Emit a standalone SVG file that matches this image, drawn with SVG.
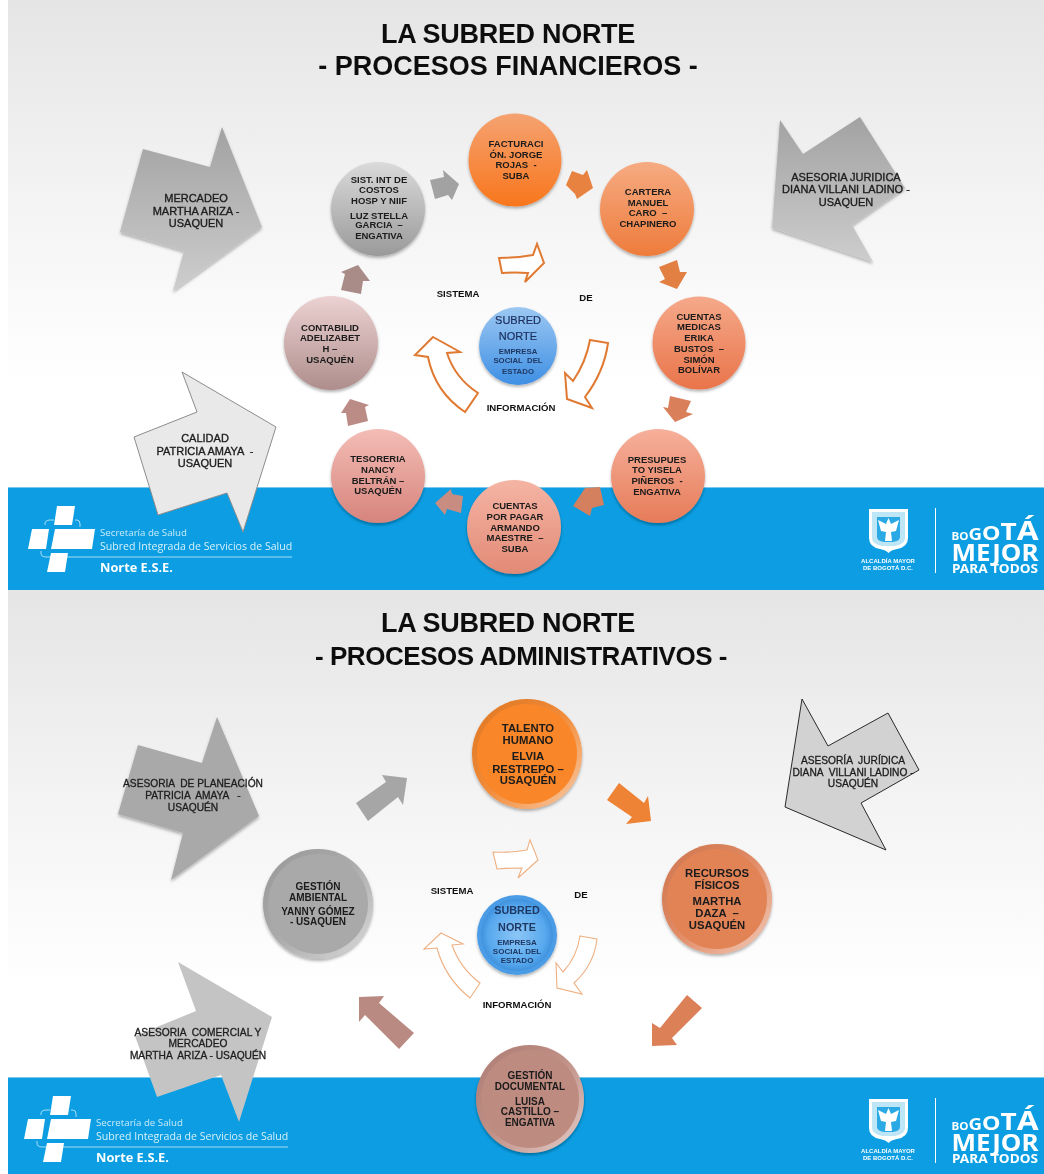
<svg xmlns="http://www.w3.org/2000/svg" width="1044" height="1174" viewBox="0 0 1044 1174">
<style>
text{font-family:"Liberation Sans",Arial,sans-serif;text-anchor:middle;fill:#1a1a1a;white-space:pre}
.title{font-size:27px;font-weight:700;fill:#111}
.n{font-size:9.500px;font-weight:700}
.b{font-size:11px;stroke:#222;stroke-width:.35px}
.b2{font-size:10.200px;stroke:#222;stroke-width:.3px}
.c{font-size:9.600px;font-weight:700;fill:#111}
.blue{fill:#1f3864;font-weight:700}
.bl{fill:#1c2f5c;stroke:#1c2f5c;stroke-width:.2px}
.lg{font-family:"Open Sans","Liberation Sans",sans-serif;fill:#fff;text-anchor:start}
.wh{fill:#fff;font-weight:700}
.br{font-family:"Noto Sans","Liberation Sans",sans-serif;fill:#fff;font-weight:700}
.ring{fill:#fff;stroke:#e07a33;stroke-width:2;stroke-linejoin:miter}
.ring2{fill:#fff;stroke:#eeb083;stroke-width:1.100}
</style>
<defs>
<linearGradient id="p1" x1="0" y1="0" x2="0" y2="1"><stop offset="0" stop-color="#e5e5e5"/><stop offset=".5" stop-color="#f3f3f3"/><stop offset="1" stop-color="#fff"/></linearGradient>
<linearGradient id="gBig" x1="0" y1="0" x2="0" y2="1"><stop offset="0" stop-color="#a2a2a2"/><stop offset="1" stop-color="#cdcdcd"/></linearGradient>
<linearGradient id="fa" x1="0" y1="0" x2="0" y2="1"><stop offset="0" stop-color="#f5a271"/><stop offset="1" stop-color="#f8761c"/></linearGradient>
<linearGradient id="ca" x1="0" y1="0" x2="0" y2="1"><stop offset="0" stop-color="#f6ab82"/><stop offset="1" stop-color="#ee7c3c"/></linearGradient>
<linearGradient id="me" x1="0" y1="0" x2="0" y2="1"><stop offset="0" stop-color="#f5a98a"/><stop offset="1" stop-color="#e9744a"/></linearGradient>
<linearGradient id="pr" x1="0" y1="0" x2="0" y2="1"><stop offset="0" stop-color="#f6b09b"/><stop offset="1" stop-color="#e67b58"/></linearGradient>
<linearGradient id="pa" x1="0" y1="0" x2="0" y2="1"><stop offset="0" stop-color="#f5b4a4"/><stop offset="1" stop-color="#e28a76"/></linearGradient>
<linearGradient id="te" x1="0" y1="0" x2="0" y2="1"><stop offset="0" stop-color="#f3bdb6"/><stop offset="1" stop-color="#d6847c"/></linearGradient>
<linearGradient id="co" x1="0" y1="0" x2="0" y2="1"><stop offset="0" stop-color="#ecd2d2"/><stop offset="1" stop-color="#ae8e8c"/></linearGradient>
<linearGradient id="si" x1="0" y1="0" x2="0" y2="1"><stop offset="0" stop-color="#dadada"/><stop offset="1" stop-color="#9a9a9a"/></linearGradient>
<linearGradient id="sb" x1="0" y1="0" x2="0" y2="1"><stop offset="0" stop-color="#9cc8f2"/><stop offset="1" stop-color="#3f8fe4"/></linearGradient>
<linearGradient id="rim" x1="0" y1="0" x2="1" y2="1"><stop offset="0" stop-color="#000" stop-opacity=".06"/><stop offset=".5" stop-color="#fff" stop-opacity=".1"/><stop offset="1" stop-color="#fff" stop-opacity=".6"/></linearGradient>
<radialGradient id="sb2" cx=".5" cy=".5" r=".5"><stop offset="0" stop-color="#8cc6f6"/><stop offset=".8" stop-color="#57a8ee"/><stop offset="1" stop-color="#3f92dc"/></radialGradient>
<filter id="soft" filterUnits="userSpaceOnUse" x="0" y="0" width="1044" height="1174"><feGaussianBlur stdDeviation=".35"/></filter>
<filter id="sh" x="-20%" y="-20%" width="140%" height="140%"><feDropShadow dx="0" dy="2" stdDeviation="1.500" flood-color="#000" flood-opacity=".3"/></filter>
<g id="cross">
<polygon points="57,506 75,506 72,525 54,525"/><polygon points="32,529 49,529 46,549 28,549"/><polygon points="55,529 95,529 92,549 51,549"/><polygon points="51,553 68,553 65,572 47,572"/>
<path d="M45,525V524Q45,520 50,520H54M75,520H77Q80,520 80,524V527M41,551V553Q41,557 46,557H292" fill="none" stroke="#fff" stroke-opacity=".75" stroke-width=".9"/>
</g>
<g id="shield">
<path d="M869,509H908V538Q908,547 897,549Q891,550 888.500,553Q886,550 880,549Q869,547 869,538Z" fill="#fff"/>
<path d="M872,512H905V538Q905,544 895,546H882Q872,544 872,538Z" fill="#bfe6f7"/>
<path d="M877,517H900V537Q900,541 893,542H884Q877,541 877,537Z" fill="#2aa9e5"/>
<path d="M888.500,518L891,524L899,520L896,531L891,532L892,541H885L886,532L881,531L878,520L886,524Z" fill="#fff"/>
<path d="M935.500,508V573" stroke="#fff" stroke-width="1"/>
</g>
</defs>
<rect width="1044" height="1174" fill="#fff"/>
<g id="content" filter="url(#soft)">
<g id="background">
<rect x="8" y="0" width="1036" height="385" fill="url(#p1)"/>
<rect x="8" y="385" width="1036" height="102" fill="#fff"/>
<rect x="8" y="487" width="1036" height="103" fill="#079de2"/>
<rect x="8" y="487" width="1036" height="1" fill="#7cc8ec"/>
<rect x="8" y="590" width="1036" height="400" fill="url(#p1)"/>
<rect x="8" y="990" width="1036" height="87" fill="#fff"/>
<rect x="8" y="1077" width="1036" height="97" fill="#079de2"/>
<rect x="8" y="1077" width="1036" height="1" fill="#7cc8ec"/>
</g>
<g id="logos" fill="#fff">
<use href="#cross"/>
<use href="#shield"/>
<text class="lg" x="100" y="536" style="font-size:9.700px;fill-opacity:.8">Secretaría de Salud</text>
<text class="lg" x="100" y="550" style="font-size:10.600px;fill-opacity:.85">Subred Integrada de Servicios de Salud</text>
<text class="lg" x="100" y="572" style="font-size:12.800px;font-weight:700">Norte E.S.E.</text>
<text class="wh" x="888" y="563" style="font-size:6px">ALCALDÍA MAYOR</text>
<text class="wh" x="888" y="570" style="font-size:6px">DE BOGOTÁ D.C.</text>
<text class="br" x="995" y="540" textLength="87" lengthAdjust="spacingAndGlyphs"><tspan style="font-size:10px">BO</tspan><tspan style="font-size:16px">G</tspan><tspan style="font-size:20px">O</tspan><tspan style="font-size:24px">T</tspan><tspan style="font-size:27px">Á</tspan></text>
<text class="br" x="995" y="561" textLength="87" lengthAdjust="spacingAndGlyphs" style="font-size:24px">MEJOR</text>
<text class="br" x="995" y="573" textLength="86" lengthAdjust="spacingAndGlyphs" style="font-size:12px">PARA TODOS</text>
<use href="#cross" x="-4" y="590"/>
<use href="#shield" y="590"/>
<text class="lg" x="96" y="1126" style="font-size:9.700px;fill-opacity:.8">Secretaría de Salud</text>
<text class="lg" x="96" y="1140" style="font-size:10.600px;fill-opacity:.85">Subred Integrada de Servicios de Salud</text>
<text class="lg" x="96" y="1162" style="font-size:12.800px;font-weight:700">Norte E.S.E.</text>
<text class="wh" x="888" y="1153" style="font-size:6px">ALCALDÍA MAYOR</text>
<text class="wh" x="888" y="1160" style="font-size:6px">DE BOGOTÁ D.C.</text>
<text class="br" x="995" y="1130" textLength="87" lengthAdjust="spacingAndGlyphs"><tspan style="font-size:10px">BO</tspan><tspan style="font-size:16px">G</tspan><tspan style="font-size:20px">O</tspan><tspan style="font-size:24px">T</tspan><tspan style="font-size:27px">Á</tspan></text>
<text class="br" x="995" y="1151" textLength="87" lengthAdjust="spacingAndGlyphs" style="font-size:24px">MEJOR</text>
<text class="br" x="995" y="1163" textLength="86" lengthAdjust="spacingAndGlyphs" style="font-size:12px">PARA TODOS</text>
</g>
<g id="titles">
<text class="title" x="508" y="43" style="letter-spacing:-.3px">LA SUBRED NORTE</text>
<text class="title" x="508" y="75">- PROCESOS FINANCIEROS -</text>
<text class="title" x="508" y="632" style="letter-spacing:-.3px">LA SUBRED NORTE</text>
<text class="title" x="521" y="665" style="font-size:26px;letter-spacing:-.45px">- PROCESOS ADMINISTRATIVOS -</text>
</g>
<g id="connectors">
<polygon fill="#a2a2a2" points="430,180 444,177 443,170 459,184 452,200 448,195 435,199"/>
<polygon fill="#e8823f" points="566,185 572,171 583,175 587,170 593,188 577,199 575,194"/>
<polygon fill="#e27f42" points="659,267 677,260 680,272 687,272 677,289 659,282 665,279"/>
<polygon fill="#d97f5a" points="670,396 691,401 686,412 693,414 675,422 663,407 668,408"/>
<polygon fill="#d4805f" points="585,488 600,487 604,505 592,508 590,516 573,506"/>
<polygon fill="#c98c80" points="463,496 461,513 447,509 445,515 435,503 451,489 452,494"/>
<polygon fill="#ba8c85" points="350,399 369,405 365,407 368,421 348,426 346,413 341,413"/>
<polygon fill="#a98b88" points="341,290 345,274 341,272 358,265 370,281 363,281 361,294"/>
<path class="ring" d="M499,258Q515,258 533,255L537,244L544,263L525,282L528,273Q515,272 502,273Z"/>
<path class="ring" d="M590,340L608,343Q604,372 585,397L592,408L567,399L565,373L573,381Q586,362 590,340Z"/>
<path class="ring" d="M433,337L460,352L447,353Q455,378 478,393L465,412Q435,392 428,357L415,355Z"/>
<polygon fill="#a6a6a6" points="356,803 386,782 382,775 407,778 403,805 398,797 368,821"/>
<polygon fill="#ee8235" points="619,783 644,803 648,796 651,821 626,824 632,817 607,800"/>
<polygon fill="#dc8059" points="687,995 702,1008 672,1038 677,1045 652,1046 652,1023 660,1028"/>
<polygon fill="#b98a82" points="359,997 384,996 379,1003 414,1033 399,1049 365,1015 359,1022"/>
<path class="ring2" d="M493,852Q510,853 527,850L530,840L538,860L518,878L522,868Q510,868 497,869Z"/>
<path class="ring2" d="M580,936L597,939Q594,965 574,983L582,994L557,988L556,963L563,972Q577,957 580,936Z"/>
<path class="ring2" d="M441,933L463,944L452,945Q460,968 480,983L470,998Q445,978 437,948L424,949Z"/>
</g>
<g id="mercadeo"><polygon fill="url(#gBig)" filter="url(#sh)" points="143,149 210,167 222,127 262,227 173,291 184,251 120,232"/><text class="b"><tspan x="196" y="202">MERCADEO</tspan><tspan x="196" y="215">MARTHA ARIZA -</tspan><tspan x="196" y="227">USAQUEN</tspan></text></g>
<g id="juridica1"><polygon fill="url(#gBig)" filter="url(#sh)" points="780,120 803,154 860,117 905,188 852,225 873,262 772,228"/><text class="b"><tspan x="846" y="181">ASESORIA JURIDICA</tspan><tspan x="846" y="193">DIANA VILLANI LADINO -</tspan><tspan x="846" y="206">USAQUEN</tspan></text></g>
<g id="calidad"><polygon fill="#e9e9e9" stroke="#8c8c8c" stroke-width="1" points="182,372 276,427 243,532 227,493 158,515 134,437 197,412"/><text class="b"><tspan x="205" y="442">CALIDAD</tspan><tspan x="205" y="455">PATRICIA AMAYA  -</tspan><tspan x="205" y="467">USAQUEN</tspan></text></g>
<g id="planeacion"><polygon fill="#a9a9a9" filter="url(#sh)" points="138,745 202,763 217,717 259,816 171,880 183,833 118,814"/><text class="b2"><tspan x="193" y="787">ASESORIA  DE PLANEACIÓN</tspan><tspan x="193" y="799">PATRICIA  AMAYA   -</tspan><tspan x="193" y="811">USAQUÉN</tspan></text></g>
<g id="juridica2"><polygon fill="#d2d2d2" stroke="#2a2a2a" stroke-width="1" points="802,699 828,746 888,713 919,770 861,803 886,850 785,807"/><text class="b2"><tspan x="853" y="764">ASESORÍA  JURÍDICA</tspan><tspan x="853" y="776">DIANA  VILLANI LADINO -</tspan><tspan x="853" y="787">USAQUÉN</tspan></text></g>
<g id="comercial"><polygon fill="#c4c4c4" points="178,962 272,1017 239,1122 221,1075 157,1097 135,1036 196,1011"/><text class="b2"><tspan x="198" y="1036">ASESORIA  COMERCIAL Y</tspan><tspan x="198" y="1047">MERCADEO</tspan><tspan x="198" y="1059">MARTHA  ARIZA - USAQUÉN</tspan></text></g>
<g id="facturacion"><circle cx="515" cy="160" r="46.500" fill="url(#fa)" filter="url(#sh)"/><text class="n"><tspan x="516" y="147">FACTURACI</tspan><tspan x="516" y="158">ÓN. JORGE</tspan><tspan x="516" y="168">ROJAS  -</tspan><tspan x="516" y="179">SUBA</tspan></text></g>
<g id="cartera"><circle cx="647" cy="209" r="47" fill="url(#ca)" filter="url(#sh)"/><text class="n"><tspan x="648" y="195">CARTERA</tspan><tspan x="648" y="206">MANUEL</tspan><tspan x="648" y="216">CARO  –</tspan><tspan x="648" y="227">CHAPINERO</tspan></text></g>
<g id="medicas"><circle cx="699" cy="343" r="46.500" fill="url(#me)" filter="url(#sh)"/><text class="n"><tspan x="699" y="320">CUENTAS</tspan><tspan x="699" y="330">MEDICAS</tspan><tspan x="699" y="341">ERIKA</tspan><tspan x="699" y="352">BUSTOS  –</tspan><tspan x="699" y="363">SIMÓN</tspan><tspan x="699" y="373">BOLÍVAR</tspan></text></g>
<g id="presupuesto"><circle cx="658" cy="476" r="47" fill="url(#pr)" filter="url(#sh)"/><text class="n"><tspan x="657" y="463">PRESUPUES</tspan><tspan x="657" y="473">TO YISELA</tspan><tspan x="657" y="484">PIÑEROS  -</tspan><tspan x="657" y="495">ENGATIVA</tspan></text></g>
<g id="pagar"><circle cx="514" cy="527" r="47" fill="url(#pa)" filter="url(#sh)"/><text class="n"><tspan x="515" y="509">CUENTAS</tspan><tspan x="515" y="520">POR PAGAR</tspan><tspan x="515" y="531">ARMANDO</tspan><tspan x="515" y="541">MAESTRE  –</tspan><tspan x="515" y="552">SUBA</tspan></text></g>
<g id="tesoreria"><circle cx="378" cy="476" r="47" fill="url(#te)" filter="url(#sh)"/><text class="n"><tspan x="378" y="462">TESORERIA</tspan><tspan x="378" y="473">NANCY</tspan><tspan x="378" y="484">BELTRÁN –</tspan><tspan x="378" y="494">USAQUÉN</tspan></text></g>
<g id="contabilidad"><circle cx="331" cy="343" r="47" fill="url(#co)" filter="url(#sh)"/><text class="n"><tspan x="330" y="331">CONTABILID</tspan><tspan x="330" y="341">ADELIZABET</tspan><tspan x="330" y="352">H –</tspan><tspan x="330" y="363">USAQUÉN</tspan></text></g>
<g id="sistemas"><circle cx="378" cy="209" r="47" fill="url(#si)" filter="url(#sh)"/><text class="n"><tspan x="379" y="183">SIST. INT DE</tspan><tspan x="379" y="193">COSTOS</tspan><tspan x="379" y="204">HOSP Y NIIF</tspan><tspan x="379" y="219">LUZ STELLA</tspan><tspan x="379" y="228">GARCIA  –</tspan><tspan x="379" y="239">ENGATIVA</tspan></text></g>
<g id="subred1"><circle cx="518" cy="346" r="39" fill="url(#sb)" filter="url(#sh)"/><text class="bl" style="font-size:11px"><tspan x="518" y="324">SUBRED</tspan><tspan x="518" y="340">NORTE</tspan></text><text class="blue" style="font-size:7.800px"><tspan x="518" y="354">EMPRESA</tspan><tspan x="518" y="363">SOCIAL  DEL</tspan><tspan x="518" y="374">ESTADO</tspan></text></g>
<g id="labels1"><text class="c" x="458" y="297">SISTEMA</text><text class="c" x="586" y="301">DE</text><text class="c" x="521" y="411">INFORMACIÓN</text></g>
<g id="talento"><circle cx="527" cy="754" r="55" fill="#f08026" filter="url(#sh)"/><circle cx="527" cy="754" r="55" fill="url(#rim)"/><circle cx="527" cy="754" r="50" fill="#f9872a"/><text class="n" style="font-size:11.300px"><tspan x="528" y="732">TALENTO</tspan><tspan x="528" y="744">HUMANO</tspan><tspan x="528" y="760">ELVIA</tspan><tspan x="528" y="773">RESTREPO –</tspan><tspan x="528" y="784">USAQUÉN</tspan></text></g>
<g id="recursos"><circle cx="717" cy="899" r="55" fill="#de8056" filter="url(#sh)"/><circle cx="717" cy="899" r="55" fill="url(#rim)"/><circle cx="717" cy="899" r="50" fill="#e28357"/><text class="n" style="font-size:11.300px"><tspan x="717" y="877">RECURSOS</tspan><tspan x="717" y="889">FÍSICOS</tspan><tspan x="717" y="905">MARTHA</tspan><tspan x="717" y="917">DAZA  –</tspan><tspan x="717" y="929">USAQUÉN</tspan></text></g>
<g id="documental"><circle cx="530" cy="1099" r="54" fill="#bb867c" filter="url(#sh)"/><circle cx="530" cy="1099" r="54" fill="url(#rim)"/><circle cx="530" cy="1099" r="49" fill="#be8b81"/><text class="n" style="font-size:10px"><tspan x="530" y="1079">GESTIÓN</tspan><tspan x="530" y="1090">DOCUMENTAL</tspan><tspan x="530" y="1105">LUISA</tspan><tspan x="530" y="1115">CASTILLO –</tspan><tspan x="530" y="1126">ENGATIVA</tspan></text></g>
<g id="ambiental"><circle cx="318" cy="904" r="55" fill="#a4a4a4" filter="url(#sh)"/><circle cx="318" cy="904" r="55" fill="url(#rim)"/><circle cx="318" cy="904" r="50" fill="#a9a9a9"/><text class="n" style="font-size:10px"><tspan x="318" y="890">GESTIÓN</tspan><tspan x="318" y="901">AMBIENTAL</tspan><tspan x="318" y="915">YANNY GÓMEZ</tspan><tspan x="318" y="925">- USAQUEN</tspan></text></g>
<g id="subred2"><circle cx="517" cy="935" r="40" fill="#4b9ce6" filter="url(#sh)"/><circle cx="517" cy="935" r="36" fill="url(#sb2)"/><text class="blue" style="font-size:10.800px"><tspan x="517" y="914">SUBRED</tspan><tspan x="517" y="931">NORTE</tspan></text><text class="blue" style="font-size:8px"><tspan x="517" y="945">EMPRESA</tspan><tspan x="517" y="954">SOCIAL DEL</tspan><tspan x="517" y="963">ESTADO</tspan></text></g>
<g id="labels2"><text class="c" x="452" y="894">SISTEMA</text><text class="c" x="581" y="898">DE</text><text class="c" x="517" y="1008">INFORMACIÓN</text></g>
</g>
</svg>
